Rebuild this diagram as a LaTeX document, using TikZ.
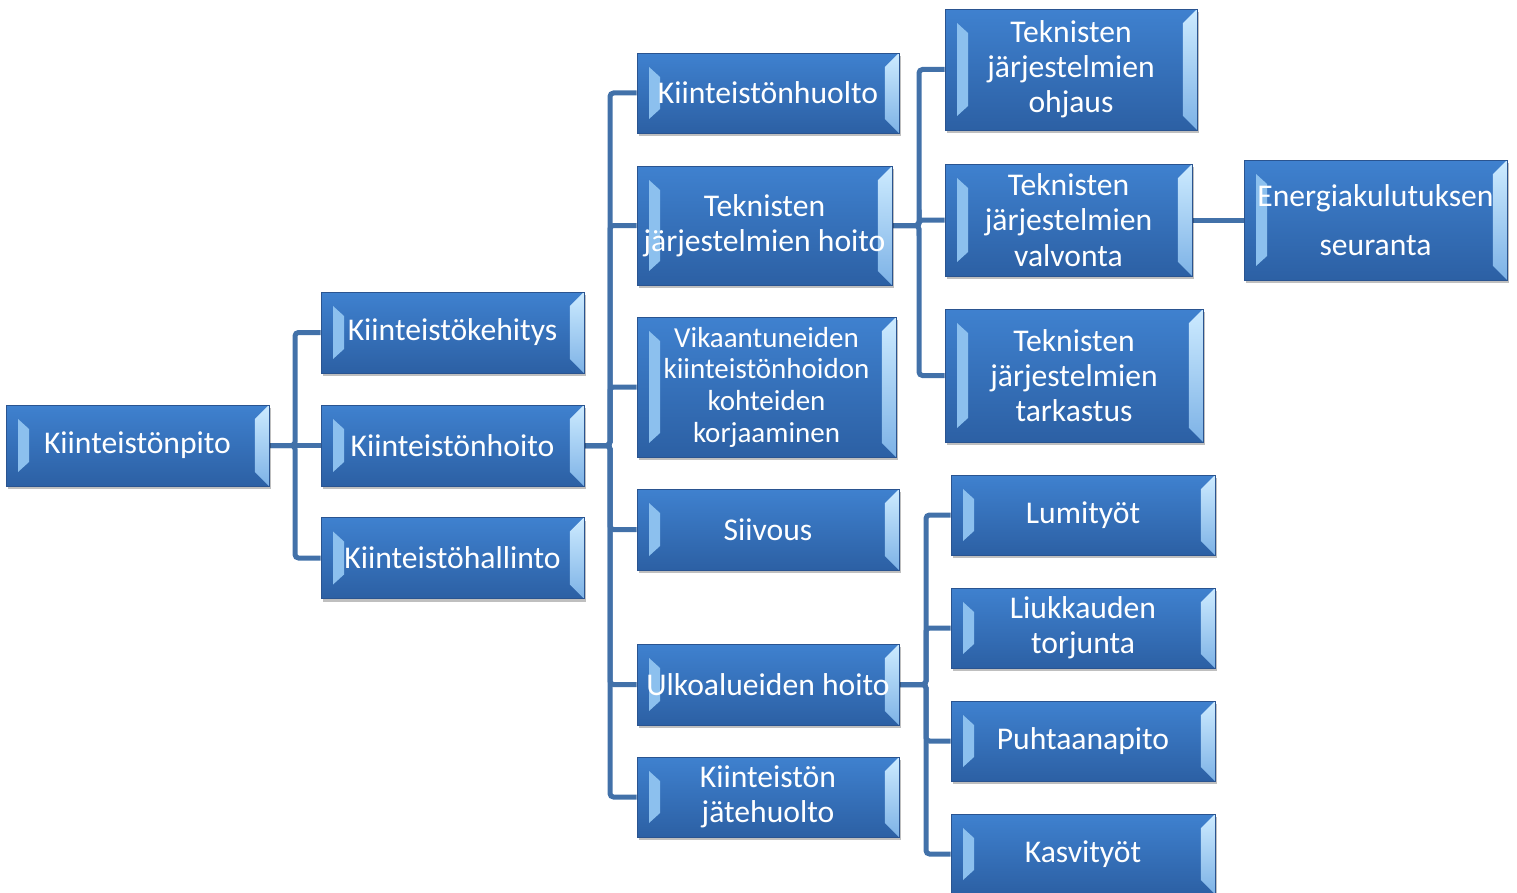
\documentclass[tikz,border=0pt]{standalone}
\usepackage{fontspec}
\setmainfont{Carlito}
\usetikzlibrary{calc,backgrounds}
\definecolor{boxtop}{HTML}{3F81CF}
\definecolor{boxbot}{HTML}{2C60A4}
\definecolor{boxedge}{HTML}{2A5490}
\definecolor{bevl}{HTML}{8CC0EE}
\definecolor{bevrtop}{HTML}{CDEBFF}
\definecolor{bevrbot}{HTML}{7DB2E6}
\definecolor{linkblue}{HTML}{4271A9}
\tikzset{
  box/.style={rectangle, draw=boxedge, line width=0.5pt, fill=boxbot,
    text=white, align=center, inner sep=0pt, font=\fontsize{18}{20}\selectfont,
    preaction={fill=black, opacity=0.25, transform canvas={xshift=1.2pt, yshift=-1.8pt}},
    path picture={
      \shade[top color=boxtop, bottom color=boxbot] (path picture bounding box.north west) rectangle (path picture bounding box.south east);
      \fill[bevl] ($(path picture bounding box.north west)+(0.24cm,-0.28cm)$) -- ++(0.22cm,-0.2cm)
        -- ($(path picture bounding box.south west)+(0.46cm,0.48cm)$) -- ++(-0.22cm,-0.2cm) -- cycle;
      \shade[top color=bevrtop, bottom color=bevrbot] (path picture bounding box.north east) -- ++(-0.28cm,-0.28cm)
        -- ($(path picture bounding box.south east)+(-0.28cm,0.28cm)$) -- (path picture bounding box.south east) -- cycle;
    }},
  link/.style={draw=linkblue, line width=0.1cm, rounded corners=2pt},
}
\begin{document}
\begin{tikzpicture}[x=0.02cm, y=-0.02cm]
\useasboundingbox (0,0) rectangle (1517,892);
% root and first level
\node[box, minimum width=5.26cm, minimum height=1.62cm] (pito) at (137.5,445.5) {Kiinteistönpito};
\node[box, minimum width=5.26cm, minimum height=1.62cm] (kehitys) at (452.5,332.5) {Kiinteistökehitys};
\node[box, minimum width=5.26cm, minimum height=1.62cm] (hoito) at (452.5,445.5) {Kiinteistönhoito};
\node[box, minimum width=5.26cm, minimum height=1.62cm] (hallinto) at (452.5,558) {Kiinteistöhallinto};
% second level
\node[box, minimum width=5.24cm, minimum height=1.6cm] (huolto) at (768,93) {Kiinteistönhuolto};
\node[box, minimum width=5.1cm, minimum height=2.38cm] (tjhoito) at (764.5,225.5) {Teknisten\\järjestelmien hoito};
\node[box, minimum width=5.18cm, minimum height=2.8cm, font=\fontsize{16.5}{18}\selectfont] (vika) at (766.5,387) {Vikaantuneiden\\kiinteistönhoidon\\kohteiden\\korjaaminen};
\node[box, minimum width=5.24cm, minimum height=1.62cm] (siivous) at (768,529.5) {Siivous};
\node[box, minimum width=5.24cm, minimum height=1.62cm] (ulko) at (768,684.5) {Ulkoalueiden hoito};
\node[box, minimum width=5.24cm, minimum height=1.6cm] (jate) at (768,797) {Kiinteistön\\jätehuolto};
% third level
\node[box, minimum width=5.04cm, minimum height=2.42cm] (ohjaus) at (1071,69.5) {Teknisten\\järjestelmien\\ohjaus};
\node[box, minimum width=4.94cm, minimum height=2.24cm] (valvonta) at (1068.5,220) {Teknisten\\järjestelmien\\valvonta};
\node[box, minimum width=5.16cm, minimum height=2.66cm] (tarkastus) at (1074,375.5) {Teknisten\\järjestelmien\\tarkastus};
\node[box, minimum width=5.26cm, minimum height=2.4cm, font=\fontsize{18}{28}\selectfont] (energia) at (1375.5,220) {Energiakulutuksen\\seuranta};
\node[box, minimum width=5.28cm, minimum height=1.6cm] (lumi) at (1083,515) {Lumityöt};
\node[box, minimum width=5.28cm, minimum height=1.6cm] (liukkaus) at (1083,628) {Liukkauden\\torjunta};
\node[box, minimum width=5.28cm, minimum height=1.6cm] (puhtaana) at (1083,741) {Puhtaanapito};
\node[box, minimum width=5.28cm, minimum height=1.6cm] (kasvi) at (1083,854) {Kasvityöt};
% connectors
\begin{scope}[on background layer]
\coordinate (b0) at (295,445.5);
\draw[link] (pito.east) -- (b0) |- (kehitys.west);
\draw[link] (pito.east) -- (b0) |- (hallinto.west);
\draw[link] (pito.east) -- (hoito.west);
\coordinate (b1) at (610,445.5);
\draw[link] (hoito.east) -- (b1) |- (huolto.west);
\draw[link] (hoito.east) -- (b1) |- (tjhoito.west);
\draw[link] (hoito.east) -- (b1) |- (vika.west);
\draw[link] (hoito.east) -- (b1) |- (siivous.west);
\draw[link] (hoito.east) -- (b1) |- (ulko.west);
\draw[link] (hoito.east) -- (b1) |- (jate.west);
\coordinate (b2) at (919,225.5);
\draw[link] (tjhoito.east) -- (b2) |- (ohjaus.west);
\draw[link] (tjhoito.east) -- (b2) |- (valvonta.west);
\draw[link] (tjhoito.east) -- (b2) |- (tarkastus.west);
\draw[link] (valvonta.east) -- (energia.west);
\coordinate (b3) at (926,684.5);
\draw[link] (ulko.east) -- (b3) |- (lumi.west);
\draw[link] (ulko.east) -- (b3) |- (liukkaus.west);
\draw[link] (ulko.east) -- (b3) |- (puhtaana.west);
\draw[link] (ulko.east) -- (b3) |- (kasvi.west);
\end{scope}
\end{tikzpicture}
\end{document}
